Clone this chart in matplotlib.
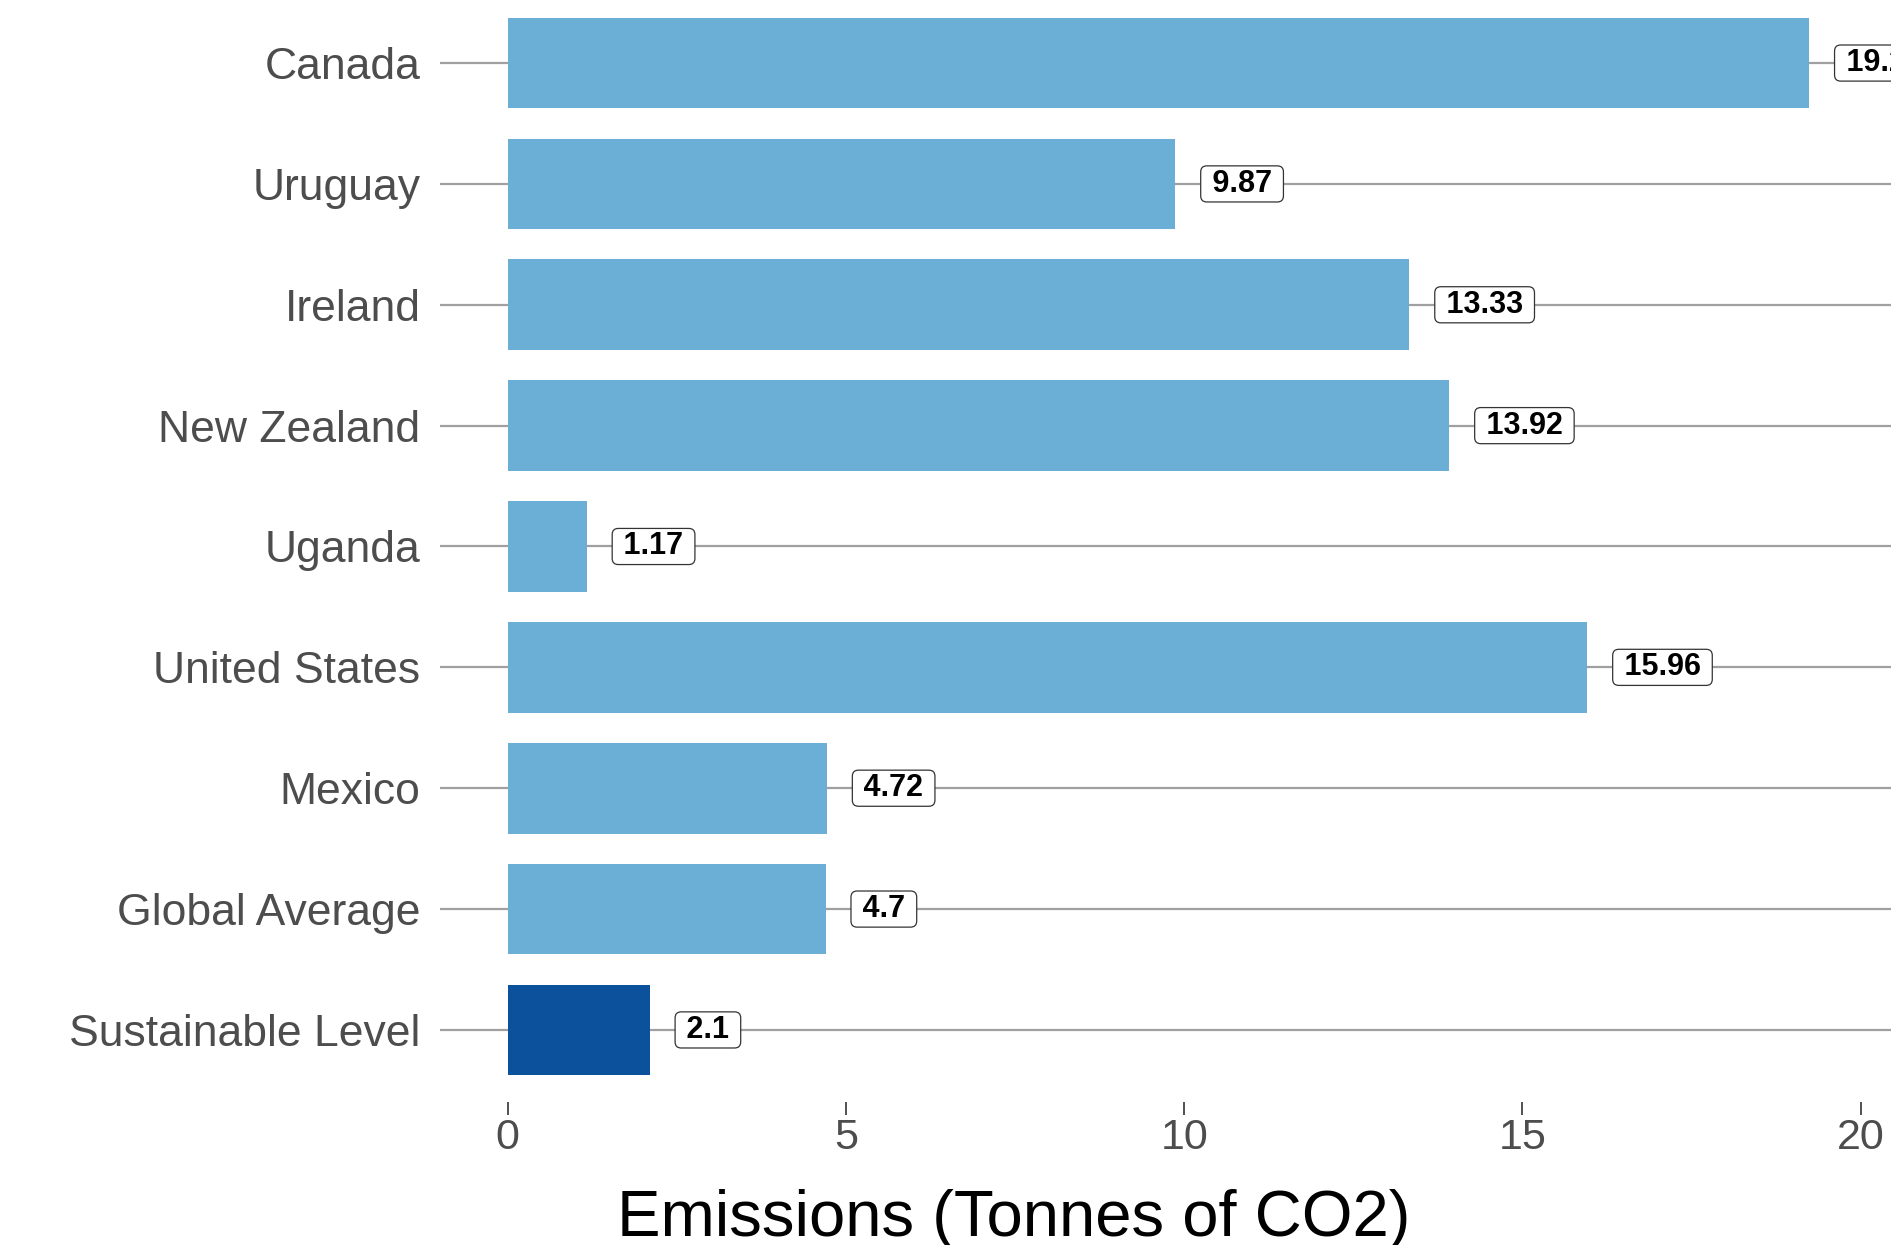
import matplotlib
matplotlib.use('Agg')  # no display here, just save the file
import matplotlib.pyplot as plt
import numpy as np

# per capita emissions, top row first
countries = ['Canada', 'Uruguay', 'Ireland', 'New Zealand', 'Uganda',
             'United States', 'Mexico', 'Global Average', 'Sustainable Level']
emissions = [19.24, 9.87, 13.33, 13.92, 1.17, 15.96, 4.72, 4.7, 2.1]
x_ticks = [0, 5, 10, 15, 20]

plt.rcParams['font.family'] = ['Liberation Sans', 'DejaVu Sans']

# bottom row sits at y=0
ypos = np.arange(len(countries))[::-1]
colors = ['#0b519c' if c == 'Sustainable Level' else '#6baed6' for c in countries]

fig = plt.figure(figsize=(18.91, 12.45), dpi=100)
# panel runs past the right and top edges of the saved image
ax = fig.add_axes([0.2327, 0.1145, 0.787, 0.8931])
ax.set_xlim(-1.0, 21.0)
ax.set_ylim(-0.6, 8.6)

# grey guide line for every row
ax.hlines(ypos, -1.0, 21.0, color='#a0a0a0', lw=1.6, zorder=1)

ax.barh(ypos, emissions, height=0.75, color=colors, zorder=2)

# value boxes just right of each bar
for y, v in zip(ypos, emissions):
    ax.text(v + 0.42, y, ' %g ' % v, ha='left', va='center', fontsize=22,
            fontweight='bold', color='black', zorder=3,
            bbox=dict(boxstyle='round,pad=0.1,rounding_size=0.2',
                      facecolor='white', edgecolor='#333333', lw=0.9))

ax.set_yticks(ypos)
ax.set_yticklabels(countries, fontsize=32, color='#4d4d4d')
ax.tick_params(axis='y', length=0, pad=14)

ax.set_xticks(x_ticks)
ax.set_xticklabels([str(t) for t in x_ticks], fontsize=31, color='#4d4d4d')
ax.tick_params(axis='x', length=9, width=1.2, color='#333333', pad=2)

for s in ax.spines.values():
    s.set_visible(False)

fig.text(1014 / 1891, 0.0072, 'Emissions (Tonnes of CO2)', ha='center',
         va='baseline', fontsize=47, color='black')

fig.savefig('out.png', dpi=100)
